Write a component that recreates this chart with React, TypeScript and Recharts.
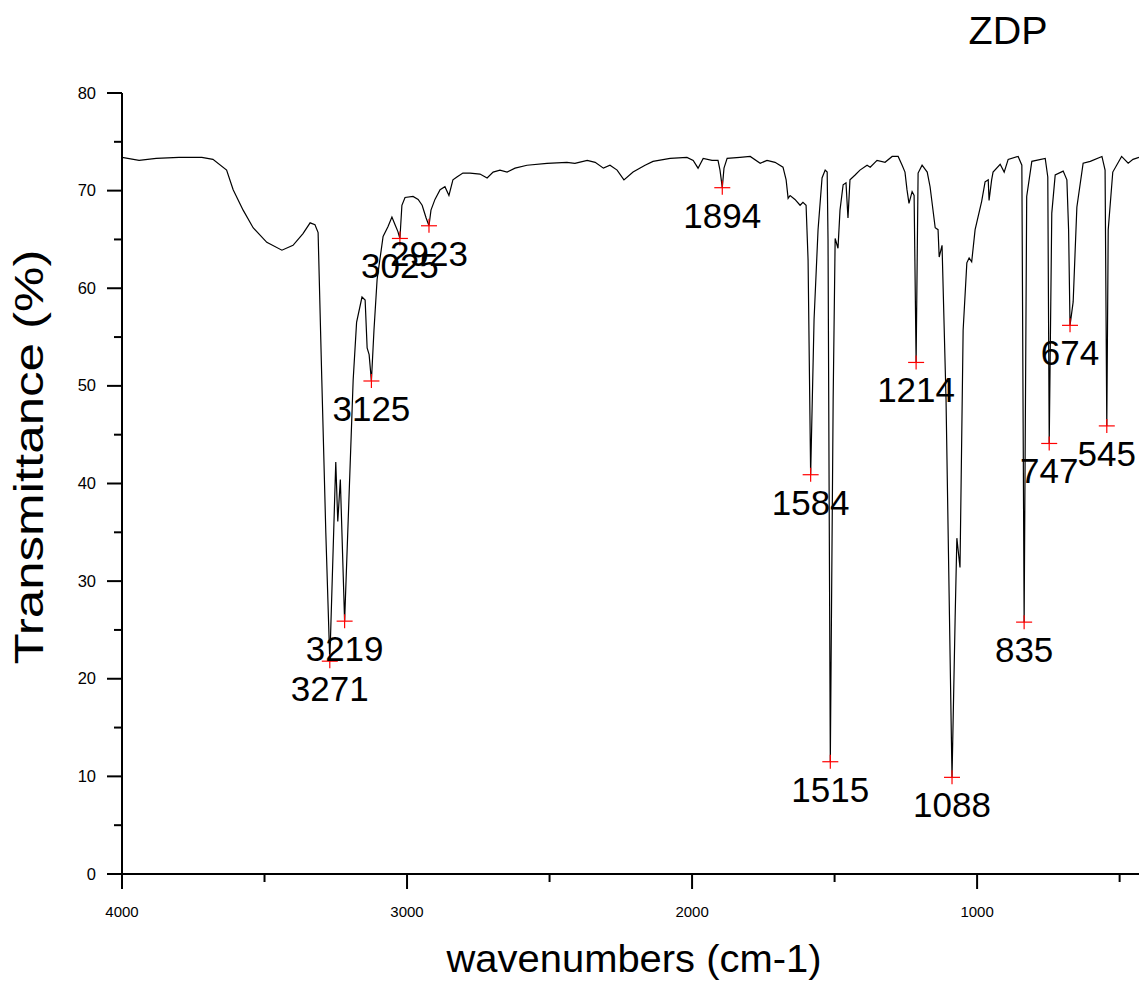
import React from 'react';
import { ComposedChart, Line, Scatter, XAxis, YAxis } from 'recharts';

// Spectrum trace (wavenumber in cm-1, transmittance in %)
const wavenumbers = [
  4000, 3940, 3880, 3800, 3720, 3681, 3633, 3610, 3575, 3540, 3492, 3439, 3400, 3365, 3340, 3323, 3312,
  3299, 3285, 3271, 3250, 3243, 3234, 3219, 3189, 3177, 3158, 3147, 3140, 3133, 3125, 3116, 3105, 3084,
  3067, 3053, 3042, 3032, 3025, 3018, 3007, 2979, 2961, 2947, 2933, 2923, 2916, 2902, 2884, 2867, 2853,
  2839, 2825, 2804, 2779, 2744, 2719, 2698, 2674, 2649, 2621, 2579, 2509, 2439, 2411, 2368, 2340, 2311,
  2288, 2263, 2239, 2207, 2165, 2137, 2077, 2018, 1996, 1979, 1961, 1930, 1909, 1902, 1894, 1888, 1877,
  1832, 1796, 1761, 1737, 1709, 1681, 1670, 1663, 1656, 1639, 1621, 1611, 1600, 1593, 1584, 1572, 1558,
  1544, 1533, 1526, 1523, 1515, 1505, 1498, 1488, 1481, 1470, 1460, 1453, 1446, 1428, 1411, 1386, 1375,
  1351, 1323, 1298, 1277, 1263, 1253, 1246, 1239, 1228, 1221, 1214, 1207, 1193, 1175, 1165, 1147, 1137,
  1133, 1123, 1109, 1088, 1077, 1071, 1060, 1049, 1036, 1028, 1019, 1007, 984, 972, 961, 958, 949, 944,
  919, 905, 891, 856, 843, 835, 826, 808, 761, 752, 747, 738, 726, 698, 685, 679, 674, 663, 650, 628, 603,
  562, 551, 545, 540, 524, 493, 470, 453, 432,
];
const transmittance = [
  73.4, 73.1, 73.3, 73.4, 73.4, 73.2, 72.1, 70.1, 68.0, 66.2, 64.7, 63.9, 64.4, 65.6, 66.7, 66.5, 65.7,
  50.6, 35.0, 21.8, 42.2, 36.1, 40.4, 25.9, 50.6, 56.5, 59.1, 58.8, 53.9, 53.2, 50.5, 55.7, 60.9, 65.3,
  66.3, 67.3, 66.5, 65.8, 65.1, 68.5, 69.3, 69.4, 69.1, 68.5, 67.2, 66.4, 68.0, 69.1, 70.1, 70.4, 69.5,
  71.1, 71.4, 71.8, 71.8, 71.7, 71.3, 71.9, 72.1, 71.9, 72.3, 72.6, 72.8, 72.9, 72.8, 73.1, 72.9, 72.3,
  72.6, 72.1, 71.1, 71.9, 72.6, 73.0, 73.3, 73.4, 73.1, 72.3, 73.3, 73.1, 73.1, 72.1, 70.3, 72.3, 73.3,
  73.4, 73.5, 72.8, 73.1, 72.9, 72.4, 71.1, 69.2, 69.5, 69.1, 68.5, 68.8, 68.5, 62.9, 40.9, 56.8, 66.0,
  71.3, 72.1, 71.9, 65.0, 11.5, 48.6, 65.1, 64.1, 68.0, 70.6, 70.8, 67.2, 71.1, 71.6, 72.1, 72.6, 72.4,
  73.1, 72.9, 73.5, 73.5, 72.6, 71.9, 70.1, 68.7, 69.9, 69.5, 52.4, 71.8, 72.6, 71.9, 70.4, 66.2, 66.0,
  63.2, 64.4, 48.6, 9.9, 26.3, 34.4, 31.4, 55.7, 62.6, 63.1, 62.7, 66.0, 68.9, 70.9, 71.1, 69.0, 71.1, 71.9,
  72.7, 71.9, 73.2, 73.5, 72.6, 25.8, 69.4, 73.0, 73.3, 71.4, 44.1, 67.7, 71.6, 72.0, 71.1, 66.0, 56.2, 58.6, 68.3, 72.8, 73.0,
  73.5, 72.1, 45.9, 66.0, 71.9, 73.5, 72.8, 73.2, 73.4,
];

// Marked peaks
const peakWavenumbers = [3271, 3219, 3125, 3025, 2923, 1894, 1584, 1515, 1214, 1088, 835, 747, 674, 545];
const peakTransmittance = [21.8, 25.9, 50.5, 65.1, 66.4, 70.3, 40.9, 11.5, 52.4, 9.9, 25.8, 44.1, 56.2, 45.9];

const xTicks = [4000, 3500, 3000, 2500, 2000, 1500, 1000, 500];
const yTicks = [0, 5, 10, 15, 20, 25, 30, 35, 40, 45, 50, 55, 60, 65, 70, 75, 80];

const title = 'ZDP';
const xTitle = 'wavenumbers (cm-1)';
const yTitle = 'Transmittance (%)';

const curve = wavenumbers.map((x, i) => ({ x, y: transmittance[i] }));
const peaks = peakWavenumbers.map((x, i) => ({ x, y: peakTransmittance[i], label: String(x) }));

const FONT = '"Liberation Sans", Arial, Helvetica, sans-serif';

const XTick = (props: any) => {
  const { x, y, payload } = props;
  const major = payload.value % 1000 === 0;
  return (
    <g>
      <line x1={x} x2={x} y1={y} y2={y + (major ? 15 : 8)} stroke="#000" strokeWidth={2} />
      {major && (
        <text x={x} y={y + 43} textAnchor="middle" fontSize={15} fontFamily={FONT} fill="#000">
          {payload.value}
        </text>
      )}
    </g>
  );
};

const YTick = (props: any) => {
  const { x, y, payload } = props;
  const major = payload.value % 10 === 0;
  return (
    <g>
      <line x1={x - (major ? 15 : 8)} x2={x} y1={y} y2={y} stroke="#000" strokeWidth={2} />
      {major && (
        <text x={x - 26} y={y + 5.5} textAnchor="end" fontSize={16.5} fontFamily={FONT} fill="#000">
          {payload.value}
        </text>
      )}
    </g>
  );
};

const PeakMark = (props: any) => {
  const { cx, cy, payload } = props;
  if (cx == null || cy == null) return null;
  return (
    <g>
      <line x1={cx - 8} x2={cx + 8} y1={cy} y2={cy} stroke="#ff0000" strokeWidth={1.2} />
      <line x1={cx} x2={cx} y1={cy - 7} y2={cy + 7} stroke="#ff0000" strokeWidth={1.2} />
      <text x={cx} y={cy + 40} textAnchor="middle" fontSize={35} fontFamily={FONT} fill="#000">
        {payload.label}
      </text>
    </g>
  );
};

export default function App() {
  return (
    <div style={{ position: 'absolute', left: 0, top: 0, width: 1139, height: 982, background: '#fff', overflow: 'hidden' }}>
      <ComposedChart
        width={1139}
        height={982}
        margin={{ top: 93, right: 0, bottom: 107, left: 121 }}
        style={{ position: 'absolute', left: 0, top: 0 }}
      >
        <XAxis
          type="number"
          dataKey="x"
          domain={[432, 4000]}
          reversed
          ticks={xTicks}
          allowDataOverflow
          height={1}
          tickSize={0}
          tickMargin={0}
          tickLine={false}
          tick={<XTick />}
          axisLine={{ stroke: '#000', strokeWidth: 2 }}
          interval={0}
        />
        <YAxis
          type="number"
          dataKey="y"
          domain={[0, 80]}
          ticks={yTicks}
          allowDataOverflow
          width={1}
          tickSize={0}
          tickMargin={0}
          tickLine={false}
          tick={<YTick />}
          axisLine={{ stroke: '#000', strokeWidth: 2 }}
          interval={0}
        />
        <Line
          data={curve}
          dataKey="y"
          type="linear"
          stroke="#000"
          strokeWidth={1.2}
          dot={false}
          activeDot={false}
          isAnimationActive={false}
        />
        <Scatter data={peaks} dataKey="y" shape={<PeakMark />} isAnimationActive={false} />
      </ComposedChart>
      <svg width={1139} height={982} style={{ position: 'absolute', left: 0, top: 0, pointerEvents: 'none' }}>
        <text x={1008} y={44} textAnchor="middle" fontSize={38} textLength={79} lengthAdjust="spacingAndGlyphs" fontFamily={FONT} fill="#000">{title}</text>
        <text x={634} y={972} textAnchor="middle" fontSize={38} textLength={375} lengthAdjust="spacingAndGlyphs" fontFamily={FONT} fill="#000">{xTitle}</text>
        <text
          x={0}
          y={0}
          transform="translate(43, 457) rotate(-90)"
          textAnchor="middle"
          fontSize={40}
          textLength={415}
          lengthAdjust="spacingAndGlyphs"
          fontFamily={FONT}
          fill="#000"
        >
          {yTitle}
        </text>
      </svg>
    </div>
  );
}
